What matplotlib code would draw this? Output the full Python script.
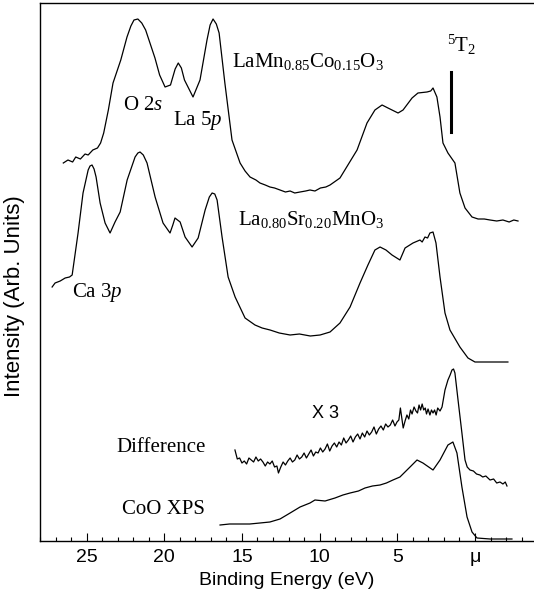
import numpy as np
import matplotlib
matplotlib.use("Agg")
import matplotlib.pyplot as plt
from matplotlib.ticker import MultipleLocator

plt.rcParams['font.family'] = ['Liberation Sans', 'DejaVu Sans']
plt.rcParams['mathtext.fontset'] = 'custom'
plt.rcParams['mathtext.rm'] = 'Liberation Serif'
plt.rcParams['mathtext.it'] = 'Liberation Serif:italic'

# binding energy (eV) / intensity (arb. units)
lamnco_e = [26.5, 26.2, 25.9, 25.7, 25.4, 25.1, 24.9, 24.6, 24.3, 24.1, 23.9, 23.6, 23.3,
            22.8, 22.4, 22.15, 21.95, 21.7, 21.45, 21.2, 20.6, 20.3, 19.95, 19.6, 19.3,
            19.1, 18.9, 18.7, 18.15, 17.7, 17.25, 17.05, 16.86, 16.65, 16.47, 16.1, 15.64,
            15.12, 14.8, 14.48, 14.1, 13.84, 13.5, 13.2, 12.9, 12.55, 12.2, 11.9, 11.6,
            11.26, 10.9, 10.62, 10.3, 9.95, 9.6, 9.33, 8.69, 7.59, 6.95, 6.44, 5.98,
            5.6, 4.95, 4.63, 4.05, 3.67, 3.09, 2.85, 2.7, 2.45, 2.25, 2.06, 1.74, 1.29,
            0.97, 0.64, 0.19, -0.2, -0.6, -0.97, -1.4, -1.8, -2.2, -2.5, -2.77]
lamnco_i = [378, 381, 379, 384, 382, 387, 386, 391, 393, 398, 408, 431, 458,
            481, 504, 515, 521, 522, 518, 511, 483, 466, 454, 456, 472,
            478, 473, 461, 444, 461, 501, 516, 522, 517, 508, 458, 401,
            378, 370, 364, 361, 358, 356, 354, 353, 351, 349, 350, 348,
            349, 350, 351, 350, 353, 354, 356, 363, 391, 418, 431, 436,
            433, 428, 431, 443, 448, 449, 450, 453, 444, 424, 398, 388, 378,
            348, 333, 324, 322, 322, 321, 320, 321, 319, 321, 320]

lasr_e = [27.22, 27.03, 26.7, 26.38, 26.1, 25.93, 25.55, 25.23, 24.9, 24.78, 24.65, 24.52,
          24.39, 24.13, 23.81, 23.49, 23.17, 22.84, 22.39, 21.88, 21.7, 21.56, 21.35,
          21.11, 20.59, 20.08, 19.63, 19.45, 19.31, 18.98, 18.66, 18.21, 17.82, 17.37,
          17.1, 16.92, 16.75, 16.6, 16.28, 15.89, 15.44, 14.8, 14.16, 13.7, 13.19, 12.6,
          11.9, 11.3, 10.6, 9.97, 9.33, 8.69, 8.04, 7.4, 6.89, 6.44, 6.11, 5.73, 5.34,
          4.83, 4.5, 3.99, 3.54, 3.4, 3.22, 3.05, 2.9, 2.7, 2.51, 2.25, 1.93, 1.61,
          0.97, 0.45, 0.0, -1.0, -2.12]
lasr_i = [254, 258, 260, 263, 264, 266, 308, 348, 371, 375, 376, 372,
          364, 338, 318, 308, 319, 329, 361, 384, 388, 389, 386,
          378, 344, 318, 308, 316, 323, 319, 304, 294, 303, 331,
          344, 348, 347, 341, 304, 264, 244, 223, 216, 213, 211, 208,
          206, 207, 205, 206, 209, 218, 234, 258, 276, 291, 294, 291, 286,
          281, 293, 298, 301, 299, 304, 303, 308, 309, 298, 264, 228, 211,
          194, 183, 179, 179, 179]

diff_e = [15.45, 15.3, 15.15, 15.0, 14.85, 14.7, 14.55, 14.4, 14.25, 14.1,
          13.95, 13.8, 13.65, 13.5, 13.35, 13.2, 13.05, 12.9, 12.75, 12.65,
          12.5, 12.35, 12.2, 12.05, 11.9, 11.75, 11.6, 11.45, 11.3, 11.15,
          11.0, 10.85, 10.7, 10.55, 10.4, 10.25, 10.1, 9.95, 9.8, 9.65,
          9.5, 9.35, 9.2, 9.05, 8.9, 8.75, 8.6, 8.45, 8.3, 8.15,
          8.0, 7.85, 7.7, 7.55, 7.4, 7.25, 7.1, 6.95, 6.8, 6.65,
          6.5, 6.35, 6.2, 6.05, 5.9, 5.75, 5.6, 5.45, 5.3, 5.15,
          5.02, 4.9, 4.8, 4.72, 4.62, 4.5, 4.38, 4.26, 4.15, 4.05,
          3.92, 3.8, 3.7, 3.6, 3.5, 3.4, 3.3, 3.2, 3.12, 3.02,
          2.9, 2.8, 2.7, 2.6, 2.5, 2.4, 2.25, 2.12, 1.93, 1.74,
          1.6, 1.48, 1.38, 1.29, 1.09, 0.84, 0.64, 0.5, 0.32, 0.1,
          -0.1, -0.32, -0.5, -0.7, -0.97, -1.2, -1.4, -1.61, -1.8, -1.95,
          -2.06]
diff_i = [91, 82, 83, 78, 80, 77, 83, 81, 79, 84,
          80, 82, 79, 75, 79, 77, 80, 74, 75, 68,
          74, 79, 76, 80, 83, 79, 81, 86, 82, 84,
          88, 83, 87, 91, 85, 89, 88, 93, 89, 92,
          97, 90, 95, 98, 94, 99, 96, 103, 98, 101,
          105, 99, 104, 107, 102, 108, 104, 110, 106, 109,
          114, 107, 112, 115, 111, 117, 114, 116, 121, 115,
          119, 121, 133, 124, 113, 120, 126, 122, 131, 127,
          134, 130, 128, 136, 131, 137, 131, 133, 127, 132,
          126, 131, 128, 131, 126, 133, 130, 134, 151, 161,
          166, 171, 172, 168, 141, 108, 81, 74, 71, 70,
          67, 66, 64, 65, 61, 62, 58, 59, 57, 59,
          55]

coo_e = [16.41, 15.8, 15.12, 14.5, 13.84, 13.2, 12.55, 11.9, 11.26, 10.62, 10.3, 9.65,
         9.01, 8.5, 8.04, 7.5, 7.08, 6.6, 6.11, 5.7, 5.28, 4.83, 4.18, 3.73, 3.35,
         2.7, 2.25, 1.74, 1.42, 1.16, 0.84, 0.51, 0.19, -0.13, -0.97, -2.38]
coo_i = [16, 17, 17, 17, 18, 19, 22, 28, 34, 38, 41, 40,
         43, 46, 48, 50, 53, 55, 56, 58, 61, 64, 74, 81, 78,
         71, 81, 96, 99, 88, 54, 24, 9, 3, 2, 2]

tick_vals = [25, 20, 15, 10, 5, 0]
tick_text = ['25', '20', '15', '10', '5', 'μ']

fig = plt.figure(figsize=(5.34, 5.99), dpi=100)
ax = fig.add_axes([40/534, 58/599, 494/534, 538/599])

lw = 0.9
ax.plot(lamnco_e, lamnco_i, color='black', lw=lw)
ax.plot(lasr_e, lasr_i, color='black', lw=lw)
ax.plot(diff_e, diff_i, color='black', lw=lw)
ax.plot(coo_e, coo_i, color='black', lw=lw)

# 5T2 marker
ax.plot([1.54, 1.54], [409, 469], color='black', lw=2.2)

serif = dict(family='Liberation Serif', fontsize=15, color='black')
ax.text(15.64, 479, r'LaMn$_{0.85}$Co$_{0.15}$O$_3$', ha='left', va='center', **serif)
ax.text(22.65, 436, r'O 2$s$', ha='left', va='center', **serif)
ax.text(19.43, 421, r'La 5$p$', ha='left', va='center', **serif)
ax.text(0.84, 496, r'$^5$T$_2$', ha='center', va='center', **serif)
ax.text(15.25, 321, r'La$_{0.80}$Sr$_{0.20}$MnO$_3$', ha='left', va='center', **serif)
ax.text(25.93, 248, r'Ca 3$p$', ha='left', va='center', **serif)
ax.text(23.10, 93, 'Difference', ha='left', va='center', **serif)
ax.text(22.72, 31, 'CoO XPS', ha='left', va='center', **serif)
ax.text(9.65, 128, 'X 3', ha='center', va='center', fontsize=13)

ax.set_xlim(28.0, -3.8)
ax.set_ylim(0, 538)
ax.set_xticks(tick_vals)
ax.set_xticklabels(tick_text)
ax.xaxis.set_minor_locator(MultipleLocator(1))
ax.tick_params(axis='x', which='major', direction='in', length=6, width=0.8,
               labelsize=14, pad=6)
ax.tick_params(axis='x', which='minor', direction='in', length=3, width=0.8)
ax.set_yticks([])
ax.spines['right'].set_visible(False)
for s in ['left', 'bottom', 'top']:
    ax.spines[s].set_linewidth(1.0)

ax.set_xlabel('Binding Energy (eV)', fontsize=14, labelpad=4)
ax.set_ylabel('Intensity (Arb. Units)', fontsize=16)
ax.yaxis.set_label_coords(-0.03, 0.455)

fig.savefig('out.png', dpi=100)
